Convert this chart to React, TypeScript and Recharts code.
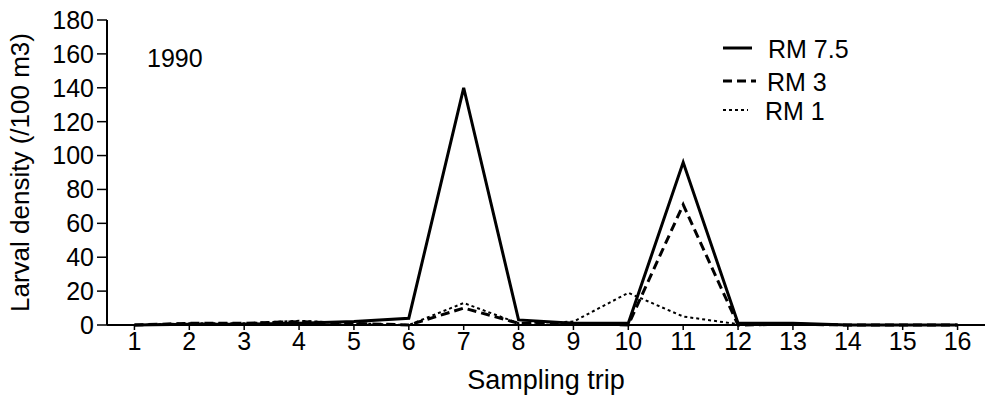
import { Line, LineChart, XAxis, YAxis } from "recharts";

const trips = [1, 2, 3, 4, 5, 6, 7, 8, 9, 10, 11, 12, 13, 14, 15, 16];
const rm75 = [0, 0.5, 0.5, 1, 2, 4, 140, 3, 1, 1, 96, 1, 1, 0, 0, 0];
const rm3 = [0, 1, 1, 2, 1, 0, 10, 1, 1, 0, 71, 0, 0.5, 0, 0, 0];
const rm1 = [0, 1, 1, 2.5, 1, 0, 13, 1, 2, 19, 5, 0.5, 0, 0, 0, 0];
const yTicks = [0, 20, 40, 60, 80, 100, 120, 140, 160, 180];

const data = trips.map((trip, i) => ({
  trip,
  rm75: rm75[i],
  rm3: rm3[i],
  rm1: rm1[i]
}));

const FONT = "'Liberation Sans', Arial, Helvetica, sans-serif";
const FS = 25;

const legendItems = [
  { label: "RM 7.5", width: 3, dash: undefined, y: 48, len: 29, tx: 768 },
  { label: "RM 3", width: 3, dash: "9 5", y: 81, len: 33, tx: 767 },
  { label: "RM 1", width: 2, dash: "3 3", y: 110, len: 25, tx: 765 }
];

function Overlay() {
  return (
    <svg
      width={985}
      height={403}
      style={{ position: "absolute", left: 0, top: 0, pointerEvents: "none" }}
    >
      <text x={147} y={67} fontSize={FS} fontFamily={FONT} fill="#000">
        1990
      </text>
      {legendItems.map((item) => (
        <g key={item.label}>
          <line
            x1={723}
            x2={723 + item.len}
            y1={item.y}
            y2={item.y}
            stroke="#000"
            strokeWidth={item.width}
            strokeDasharray={item.dash}
          />
          <text x={item.tx} y={item.y + 10} fontSize={FS} fontFamily={FONT} fill="#000">
            {item.label}
          </text>
        </g>
      ))}
    </svg>
  );
}

export default function App() {
  return (
    <div style={{ position: "absolute", left: 0, top: 0, width: 985, height: 403, background: "#fff", fontFamily: FONT }}>
      <LineChart
        width={985}
        height={403}
        data={data}
        margin={{ top: 20, right: 0, left: 0, bottom: 0 }}
      >
        <XAxis
          xAxisId="top"
          orientation="top"
          dataKey="trip"
          type="number"
          domain={[0.5, 16.5]}
          height={0}
          tick={false}
          tickLine={false}
          axisLine={{ stroke: "#000", strokeWidth: 2 }}
        />
        <XAxis
          dataKey="trip"
          type="number"
          domain={[0.5, 16.5]}
          ticks={trips}
          interval={0}
          height={78}
          tickSize={5}
          tickMargin={2}
          axisLine={{ stroke: "#000", strokeWidth: 2 }}
          tickLine={{ stroke: "#000", strokeWidth: 1.5 }}
          tick={{ fill: "#000", fontSize: FS, fontFamily: FONT }}
          label={{
            value: "Sampling trip",
            position: "insideBottom",
            offset: 14,
            fill: "#000",
            fontSize: 27,
            fontFamily: FONT
          }}
        />
        <YAxis
          domain={[0, 180]}
          ticks={yTicks}
          interval={0}
          width={107}
          tickSize={10}
          tickMargin={3}
          axisLine={{ stroke: "#000", strokeWidth: 2 }}
          tickLine={{ stroke: "#000", strokeWidth: 1.5 }}
          tick={{ fill: "#000", fontSize: FS, fontFamily: FONT }}
          label={{
            value: "Larval density (/100 m3)",
            angle: -90,
            position: "insideLeft",
            offset: 20,
            style: { textAnchor: "middle" },
            fill: "#000",
            fontSize: 26,
            fontFamily: FONT
          }}
        />
        <Line
          xAxisId={0}
          type="linear"
          dataKey="rm1"
          stroke="#000"
          strokeWidth={2}
          strokeDasharray="3 3"
          dot={false}
          isAnimationActive={false}
        />
        <Line
          xAxisId={0}
          type="linear"
          dataKey="rm3"
          stroke="#000"
          strokeWidth={3}
          strokeDasharray="9 5"
          dot={false}
          isAnimationActive={false}
        />
        <Line
          xAxisId={0}
          type="linear"
          dataKey="rm75"
          stroke="#000"
          strokeWidth={3}
          dot={false}
          isAnimationActive={false}
        />
      </LineChart>
      <Overlay />
    </div>
  );
}
